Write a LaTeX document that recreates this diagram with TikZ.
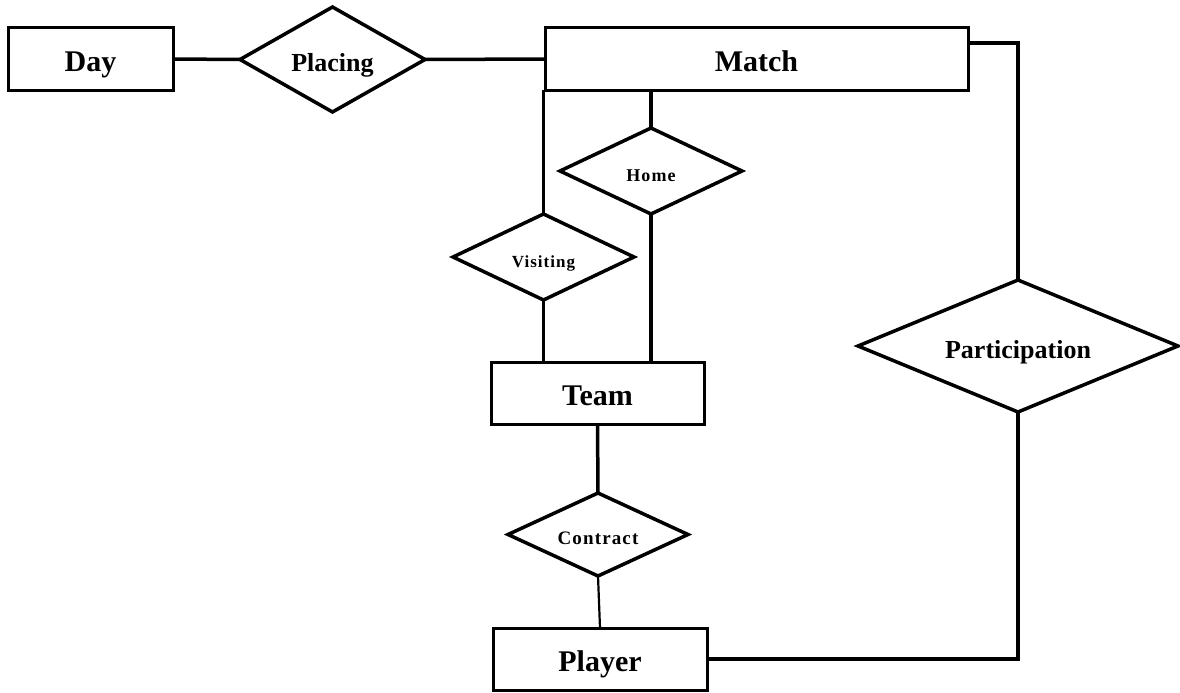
\documentclass[tikz,border=0pt]{standalone}
\usepackage{fontspec}
\setmainfont{Liberation Serif}
\usetikzlibrary{shapes.geometric}
\begin{document}
\begin{tikzpicture}[x=1pt,y=-1pt,
  entity/.style={draw, rectangle, line width=3pt, inner sep=0pt, outer sep=0pt,
    minimum width=#1, minimum height=62pt, text height=24pt, text depth=0pt,
    font=\bfseries\fontsize{30}{34}\selectfont},
  relation/.style={draw, diamond, line width=3.5pt, inner sep=0pt, outer sep=0pt},
  link/.style={line width=3.5pt},
  big/.style={font=\bfseries\fontsize{26}{30}\selectfont, text height=24pt, text depth=0pt},
  small/.style={font=\bfseries\fontsize{#1}{#1}\selectfont\addfontfeatures{LetterSpace=6},
    text height=20pt, text depth=0pt}]
\useasboundingbox (0,0) rectangle (1180,693);

% entities
\node[entity=165pt] (day) at (90.5,59) {Day};
\node[entity=423pt] (match) at (756.5,59) {Match};
\node[entity=213pt] (team) at (597.5,393) {Team};
\node[entity=214pt] (player) at (600,659) {Player};

% relationships
\node[relation, big, minimum width=185pt, minimum height=105pt, shape aspect=1.76] (placing) at (332.5,59.5) {Placing};
\node[relation, small=18, minimum width=182pt, minimum height=86pt, shape aspect=2.1] (home) at (651,171) {Home};
\node[relation, small=17, minimum width=181pt, minimum height=86pt, shape aspect=2.1] (visiting) at (543.5,257) {Visiting};
\node[relation, small=19, minimum width=180pt, minimum height=83pt, shape aspect=2.2] (contract) at (598,534.5) {Contract};
\node[relation, big, minimum width=320pt, minimum height=132pt, shape aspect=2.4] (participation) at (1018,346) {Participation};

% connectors
\draw[link] (day.east) -- (placing.west);
\draw[link] (placing.east) -- (match.west);
\draw[link] (visiting.north) -- (visiting.north |- match.south);
\draw[link] (home.north) -- (home.north |- match.south);
\draw[link] (visiting.south) -- (visiting.south |- team.north);
\draw[link] (home.south) -- (home.south |- team.north);
\draw[link] (team.south) -- (contract.north);
\draw[line width=2.2pt] (contract.south) -- (player.north);
\draw[link] ([yshift=16pt]match.east) -| (participation.north);
\draw[link] (participation.south) |- (player.east);
\end{tikzpicture}
\end{document}
